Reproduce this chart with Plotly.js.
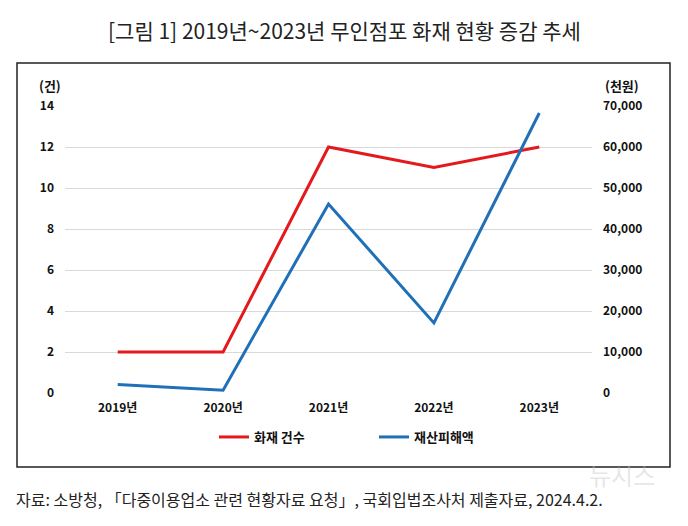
<!DOCTYPE html>
<html><head><meta charset="utf-8">
<script src="https://cdn.plot.ly/plotly-3.0.1.min.js"></script>
<style>html,body{margin:0;padding:0;background:#fff}#c{width:688px;height:526px}</style>
</head><body><div id="c"></div>
<script>
const years = ['2019년','2020년','2021년','2022년','2023년'];
const fireCount = [2, 2, 12, 11, 12];
const damage = [2100, 700, 46100, 17100, 68300];
const leftTicks = [0,2,4,6,8,10,12,14];
const rightTicks = [0,10000,20000,30000,40000,50000,60000,70000];
const rightTickText = ['0','10,000','20,000','30,000','40,000','50,000','60,000','70,000'];

const L=65, R=96, T=106, B=133, W=688, H=526;
const pw=W-L-R, ph=H-T-B;
const px = x => (x-L)/pw;
const py = y => (H-B-y)/ph;

const tickFont = {family:'Noto Sans CJK KR, sans-serif', size:12, color:'#111', weight:700};
const traces = [
  {x:years, y:fireCount, name:'화재 건수', type:'scatter', mode:'lines',
   line:{color:'#e3191b', width:3}, yaxis:'y'},
  {x:years, y:damage, name:'재산피해액', type:'scatter', mode:'lines',
   line:{color:'#1f70b8', width:3}, yaxis:'y2'}
];
const layout = {
  width:W, height:H, margin:{l:L, r:R, t:T, b:B},
  paper_bgcolor:'#fff', plot_bgcolor:'#fff',
  showlegend:true,
  legend:{orientation:'h', x:px(214), xanchor:'left', y:py(437), yanchor:'middle',
          font:{family:'Noto Sans CJK KR, sans-serif', size:13, color:'#111', weight:700},
          entrywidth:115, itemwidth:30},
  xaxis:{type:'category', range:[-0.5,4.5], tickfont:tickFont, showgrid:false, zeroline:false, showline:false,
         ticks:'', ticklabelstandoff:6},
  yaxis:{range:[0,14], tickvals:leftTicks, tickfont:tickFont, showgrid:true, gridcolor:'#d9d9d9',
         gridwidth:1, zeroline:false, showline:false, ticks:'', ticklabelstandoff:10},
  yaxis2:{range:[0,70000], overlaying:'y', side:'right', tickvals:rightTicks, ticktext:rightTickText,
          tickfont:tickFont, showgrid:false, zeroline:false, showline:false, ticks:'', ticklabelstandoff:10},
  shapes:[{type:'rect', xref:'paper', yref:'paper', x0:px(17), x1:px(670), y0:py(467), y1:py(63),
           line:{color:'#222', width:1.5}, fillcolor:'rgba(0,0,0,0)', layer:'below'}],
  annotations:[
    {text:'[그림 1] 2019년~2023년 무인점포 화재 현황 증감 추세', xref:'paper', yref:'paper',
     x:px(344), y:py(30), xanchor:'center', yanchor:'middle', showarrow:false,
     font:{family:'Noto Sans CJK KR, sans-serif', size:21, color:'#222'}},
    {text:'(건)', xref:'paper', yref:'paper', x:px(50), y:py(86), xanchor:'center', yanchor:'middle',
     showarrow:false, font:{family:'Noto Sans CJK KR, sans-serif', size:13, color:'#111', weight:700}},
    {text:'(천원)', xref:'paper', yref:'paper', x:px(622), y:py(86), xanchor:'center', yanchor:'middle',
     showarrow:false, font:{family:'Noto Sans CJK KR, sans-serif', size:13, color:'#111', weight:700}},
    {text:'자료: 소방청, 「다중이용업소 관련 현황자료 요청」, 국회입법조사처 제출자료, 2024.4.2.',
     xref:'paper', yref:'paper', x:px(14), y:py(499), xanchor:'left', yanchor:'middle', showarrow:false,
     font:{family:'Noto Sans CJK KR, sans-serif', size:16, color:'#222'}},
    {text:'뉴시스', xref:'paper', yref:'paper', x:px(622), y:py(474), xanchor:'center', yanchor:'middle',
     showarrow:false, font:{family:'Noto Sans CJK KR, sans-serif', size:24, color:'rgba(200,200,200,0.45)'}}
  ]
};
Plotly.newPlot('c', traces, layout, {displayModeBar:false, staticPlot:true});
</script></body></html>
